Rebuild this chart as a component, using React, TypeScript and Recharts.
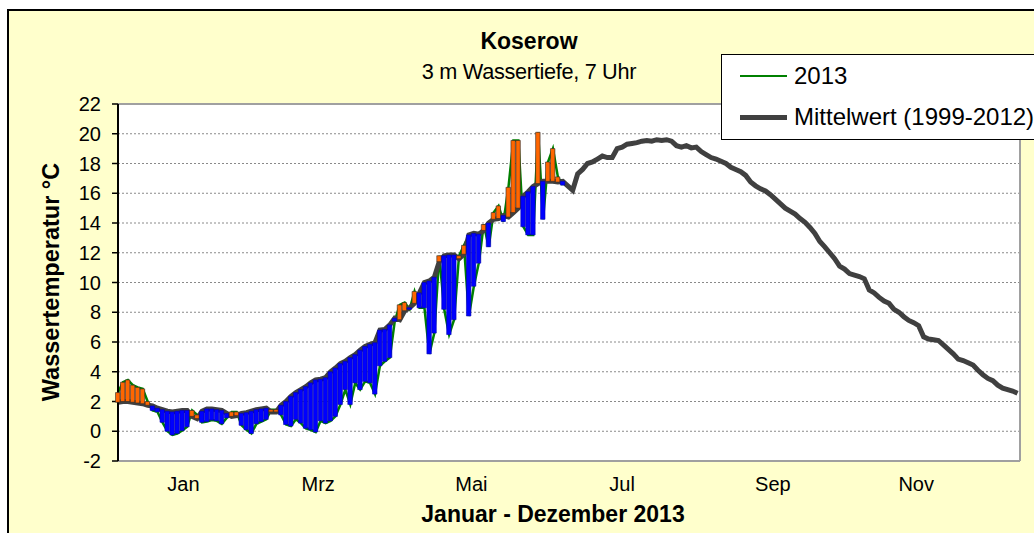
import {
  Bar,
  CartesianGrid,
  Cell,
  ComposedChart,
  Legend,
  Line,
  ReferenceLine,
  XAxis,
  YAxis,
} from "recharts";

// one value every 2 days, day 0 = 1 Jan
const DAY_STEP = 2;

// Mittelwert 1999-2012, 3 m depth, 7 a.m.
const MEAN = [
  1.95, 2.0, 2.0, 1.95, 1.9, 1.85, 1.75, 1.7, 1.55, 1.45,
  1.35, 1.3, 1.35, 1.4, 1.4, 1.0, 0.85, 1.35, 1.5, 1.5,
  1.45, 1.4, 1.2, 1.0, 1.05, 1.2, 1.25, 1.35, 1.45, 1.5,
  1.55, 1.3, 1.3, 1.75, 2.0, 2.35, 2.6, 2.8, 3.0, 3.25,
  3.45, 3.5, 3.6, 4.0, 4.25, 4.55, 4.7, 4.95, 5.15, 5.45,
  5.7, 5.85, 5.95, 6.8, 6.85, 7.15, 7.6, 7.5, 8.1, 8.3,
  8.6, 9.3, 10.0, 10.1, 10.35, 11.4, 11.8, 11.85, 11.85, 11.6,
  11.9, 13.2, 13.3, 13.25, 13.5, 14.0, 14.25, 14.3, 14.5, 14.4,
  14.7, 15.0, 15.8, 16.1, 16.45, 16.65, 16.8, 16.8, 16.8, 16.75,
  16.8, 16.5, 16.2, 17.3, 17.6, 18.0, 18.1, 18.3, 18.5, 18.4,
  18.4, 19.0, 19.1, 19.3, 19.35, 19.4, 19.5, 19.55, 19.5, 19.6,
  19.55, 19.6, 19.5, 19.2, 19.1, 19.2, 19.05, 19.1, 18.8, 18.6,
  18.4, 18.3, 18.15, 18.0, 17.75, 17.6, 17.45, 17.2, 16.75, 16.5,
  16.3, 16.15, 15.9, 15.6, 15.3, 15.0, 14.8, 14.6, 14.3, 14.05,
  13.7, 13.3, 12.75, 12.4, 12.0, 11.6, 11.1, 10.9, 10.6, 10.5,
  10.4, 10.25, 9.5, 9.3, 9.0, 8.75, 8.6, 8.2, 8.0, 7.7,
  7.45, 7.3, 7.1, 6.35, 6.2, 6.15, 6.1, 5.8, 5.5, 5.2,
  4.85, 4.75, 4.6, 4.45, 4.1, 3.8, 3.55, 3.4, 3.1, 2.9,
  2.8, 2.7, 2.55,
];

// 2013, Jan to end of June
const TEMP_2013 = [
  2.6, 3.3, 3.45, 3.1, 2.95, 2.85, 2.0, 1.4, 1.3, 0.6,
  0.0, -0.25, -0.15, 0.05, 0.3, 1.4, 1.1, 0.6, 0.65, 0.75,
  0.7, 0.5, 0.9, 1.3, 1.3, 0.4, 0.1, -0.15, 0.5, 0.65,
  0.8, 1.45, 1.45, 1.1, 0.45, 0.35, 0.8, 0.55, 0.2, 0.1,
  -0.05, 0.7, 0.55, 0.7, 1.0, 1.8, 2.8, 1.8, 3.25, 2.8,
  3.35, 3.25, 2.5, 4.4, 4.7, 4.95, 7.4, 8.5, 8.65, 8.2,
  9.4, 8.3, 8.3, 5.2, 6.6, 11.8, 8.2, 6.5, 7.5, 11.8,
  12.5, 7.75, 9.75, 11.3, 13.9, 12.4, 14.7, 15.15, 14.1, 16.4,
  19.55, 19.55, 13.75, 13.2, 13.2, 20.1, 14.25, 18.1, 19.0, 17.1,
  16.55,
];

const MONTH_TICKS = [26.5, 81, 143, 204, 265, 323];
const MONTH_LABELS = ["Jan", "Mrz", "Mai", "Jul", "Sep", "Nov"];
const Y_TICKS = [-2, 0, 2, 4, 6, 8, 10, 12, 14, 16, 18, 20, 22];

const FONT = '"Liberation Sans", Arial, sans-serif';
const ORANGE = "#FF6600";
const BLUE = "#0000FF";
const GREEN = "#008000";
const MEAN_GREY = "#404040";

const rows = MEAN.map((m, i) => ({
  day: i * DAY_STEP,
  mean: m,
  obs: i < TEMP_2013.length ? TEMP_2013[i] : null,
}));

const diffRange = (r: { mean: number; obs: number | null }) =>
  r.obs == null ? null : [Math.min(r.mean, r.obs), Math.max(r.mean, r.obs)];

const legendStroke: Record<string, number> = { obs: 2.5, mean: 5 };

function LegendBox({ payload }: any) {
  const items = (payload ?? []).filter((p: any) => p.type !== "none");
  return (
    <div
      style={{
        position: "relative",
        width: 330,
        height: 86,
        boxSizing: "border-box",
        border: "1px solid #000",
        background: "#fff",
        fontFamily: FONT,
      }}
    >
      {items.map((p: any, i: number) => (
        <div
          key={p.value}
          style={{
            position: "absolute",
            left: 18,
            top: 21 + i * 41 - 14,
            height: 28,
            display: "flex",
            alignItems: "center",
          }}
        >
          <span
            style={{
              width: 47,
              height: legendStroke[p.dataKey] ?? 3,
              background: p.color,
              marginRight: 7,
            }}
          />
          <span style={{ fontSize: 24, lineHeight: "28px", color: "#000" }}>{p.value}</span>
        </div>
      ))}
    </div>
  );
}

export default function App() {
  return (
    <div style={{ position: "relative", width: 1034, height: 533, overflow: "hidden", fontFamily: FONT }}>
      <style>{"body{margin:0}"}</style>
      <div
        style={{
          position: "absolute",
          left: 7,
          top: 9,
          width: 1200,
          height: 800,
          border: "2px solid #000",
          background: "#FFFFCC",
        }}
      />
      <div style={{ position: "absolute", left: 0, top: 0 }}>
        <ComposedChart
          width={1034}
          height={533}
          data={rows}
          margin={{ top: 104, right: 14, bottom: 42, left: 58 }}
        >
          <CartesianGrid
            vertical={false}
            stroke="#8a8a8a"
            strokeDasharray="2 2"
            fill="#fff"
            fillOpacity={1}
          />
          <XAxis
            dataKey="day"
            type="number"
            domain={[0, 365]}
            ticks={MONTH_TICKS}
            tickFormatter={(v) => MONTH_LABELS[MONTH_TICKS.indexOf(v)] ?? ""}
            tick={{ fill: "#000", fontSize: 20, fontFamily: FONT }}
            tickLine={false}
            tickSize={6}
            tickMargin={10}
            axisLine={{ stroke: "#a0a0a0", strokeWidth: 2 }}
            height={30}
            interval={0}
          />
          <YAxis
            domain={[-2, 22]}
            ticks={Y_TICKS}
            interval={0}
            width={60}
            tick={{ fill: "#000", fontSize: 20, fontFamily: FONT }}
            tickSize={6}
            tickMargin={11}
            tickLine={{ stroke: "#000", strokeWidth: 1.5 }}
            axisLine={{ stroke: "#000", strokeWidth: 2 }}
          />
          <ReferenceLine y={22} stroke="#a0a0a0" strokeWidth={2} />
          <ReferenceLine x={365} stroke="#a0a0a0" strokeWidth={2} />
          <Line
            dataKey="obs"
            name="2013"
            stroke={GREEN}
            strokeWidth={2.5}
            dot={false}
            activeDot={false}
            isAnimationActive={false}
          />
          <Line
            dataKey="mean"
            name="Mittelwert (1999-2012)"
            stroke={MEAN_GREY}
            strokeWidth={5}
            dot={false}
            activeDot={false}
            isAnimationActive={false}
          />
          <Bar
            dataKey={diffRange as any}
            barSize={6}
            legendType="none"
            strokeWidth={0.6}
            isAnimationActive={false}
            {...({ zIndex: 500 } as any)}
          >
            {rows.map((r) => {
              const up = r.obs != null && r.obs > r.mean;
              return <Cell key={r.day} fill={up ? ORANGE : BLUE} stroke={up ? "#2a2a2a" : "#0000b0"} />;
            })}
          </Bar>
          <Legend
            layout="vertical"
            align="center"
            verticalAlign="middle"
            wrapperStyle={{ left: 721, top: 54, width: 330, height: 86 }}
            content={<LegendBox />}
          />
        </ComposedChart>
      </div>
      <div
        style={{
          position: "absolute",
          left: 329,
          width: 400,
          top: 28,
          textAlign: "center",
          fontWeight: "bold",
          fontSize: 23,
          lineHeight: "26px",
        }}
      >
        Koserow
      </div>
      <div
        style={{
          position: "absolute",
          left: 329,
          width: 400,
          top: 60,
          textAlign: "center",
          fontSize: 21.7,
          lineHeight: "24px",
          letterSpacing: -0.3,
        }}
      >
        3 m Wassertiefe, 7 Uhr
      </div>
      <div
        style={{
          position: "absolute",
          left: 51 - 200,
          top: 282 - 13,
          width: 400,
          height: 26,
          lineHeight: "26px",
          textAlign: "center",
          fontWeight: "bold",
          fontSize: 23.5,
          transform: "rotate(-90deg)",
        }}
      >
        Wassertemperatur °C
      </div>
      <div
        style={{
          position: "absolute",
          left: 553 - 200,
          width: 400,
          top: 501,
          textAlign: "center",
          fontWeight: "bold",
          fontSize: 23,
          lineHeight: "26px",
        }}
      >
        Januar - Dezember 2013
      </div>
    </div>
  );
}
